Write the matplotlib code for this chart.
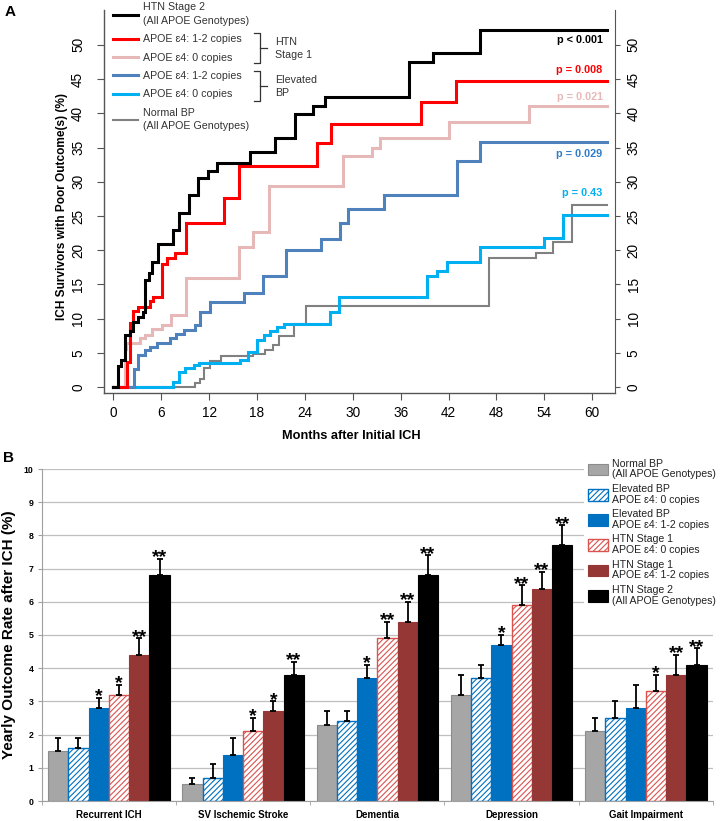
import matplotlib
matplotlib.use('Agg')
import matplotlib.pyplot as plt
from matplotlib.lines import Line2D
from matplotlib.patches import Patch
from matplotlib import font_manager as fm
import numpy as np

plt.rcParams['font.family'] = 'Liberation Sans'
plt.rcParams['hatch.linewidth'] = 0.8

_names = {f.name for f in fm.fontManager.ttflist}
HAS_NARROW = 'Liberation Sans Narrow' in _names
NARROW = 'Liberation Sans Narrow' if HAS_NARROW else 'Liberation Sans'

# ---- panel A: cumulative poor outcome (%) step curves ----
black_t = [0.6, 0.9, 1.4, 1.5, 2.1, 2.5, 3.1, 3.7, 4.0, 4.4, 4.8, 5.6, 7.5, 8.2,
           9.5, 10.6, 11.9, 13.0, 17.1, 20.3, 22.7, 25.0, 26.5, 37.1, 40.0, 46.0]
black_y = [3.0, 3.9, 5.2, 7.6, 8.2, 9.5, 10.3, 10.9, 15.6, 16.6, 18.3, 20.9, 23.0, 25.4,
           28.1, 30.5, 31.5, 32.7, 34.4, 36.4, 39.9, 41.1, 42.4, 47.5, 48.8, 52.2]

red_t = [1.7, 2.1, 2.5, 3.1, 4.6, 5.0, 6.05, 6.75, 7.7, 9.1, 13.9, 15.8, 25.5, 27.3, 38.5, 42.9]
red_y = [3.6, 9.3, 11.1, 11.7, 12.5, 13.2, 18.0, 18.8, 19.6, 23.9, 27.6, 32.3, 35.7, 38.5, 41.6, 44.7]

pink_t = [1.45, 1.6, 3.3, 4.0, 4.8, 6.05, 7.2, 9.1, 15.8, 17.5, 19.5, 28.8, 32.4, 33.4, 42.1, 52.1]
pink_y = [5.5, 6.4, 7.1, 7.6, 8.5, 9.1, 10.5, 16.0, 20.5, 22.7, 29.4, 33.8, 35.0, 36.4, 38.7, 41.1]

dblue_t = [2.6, 3.1, 3.95, 4.6, 5.4, 7.1, 7.9, 8.9, 10.2, 10.8, 12.1, 16.4, 18.8, 21.6,
           26.0, 28.4, 29.4, 33.9, 43.0, 46.0]
dblue_y = [2.6, 4.7, 5.4, 5.9, 6.5, 7.1, 7.7, 8.3, 9.1, 11.0, 12.4, 13.8, 16.2, 20.0,
           21.7, 23.9, 26.0, 28.1, 33.0, 35.8]

lblue_t = [7.5, 8.2, 9.0, 10.1, 10.7, 15.9, 16.9, 18.0, 18.9, 19.6, 20.5, 21.4, 27.2, 28.3,
           39.3, 40.6, 41.8, 46.0, 54.0, 56.3]
lblue_y = [0.8, 2.2, 2.8, 3.2, 3.5, 4.0, 5.1, 6.9, 7.6, 8.2, 8.8, 9.2, 11.0, 13.2,
           16.2, 16.9, 18.2, 20.4, 21.8, 25.2]

gray_t = [10.2, 10.9, 11.4, 12.1, 13.5, 17.5, 19.0, 20.0, 20.7, 22.6, 24.1, 47.1, 53.0, 55.1, 57.5]
gray_y = [0.6, 1.2, 2.8, 3.8, 4.5, 4.8, 5.4, 6.1, 7.5, 9.2, 11.8, 18.8, 19.6, 21.2, 26.6]

end_month = 61.8

curve_labels = ['HTN Stage 2\n(All APOE Genotypes)', 'APOE \u025b4: 1-2 copies', 'APOE \u025b4: 0 copies',
                'APOE \u025b4: 1-2 copies', 'APOE \u025b4: 0 copies', 'Normal BP\n(All APOE Genotypes)']
curve_colors = ['#000000', '#FF0000', '#E6B9B8', '#4F81BD', '#00B0F0', '#808080']

p_texts = ['p < 0.001', 'p = 0.008', 'p = 0.021', 'p = 0.029', 'p = 0.43']
p_colors = ['#000000', '#FF0000', '#E6B9B8', '#2F7CC8', '#00B0F0']
p_ypos = [50.7, 46.3, 42.4, 34.05, 28.3]

# ---- panel B: yearly outcome rates ----
categories = ['Recurrent ICH', 'SV Ischemic Stroke', 'Dementia', 'Depression', 'Gait Impairment']

normal_bp = [1.5, 0.5, 2.3, 3.2, 2.1]
normal_bp_err = [0.4, 0.2, 0.4, 0.6, 0.4]
normal_bp_sig = ['', '', '', '', '']

elev_0 = [1.6, 0.7, 2.4, 3.7, 2.5]
elev_0_err = [0.3, 0.4, 0.3, 0.4, 0.5]
elev_0_sig = ['', '', '', '', '']

elev_12 = [2.8, 1.4, 3.7, 4.7, 2.8]
elev_12_err = [0.3, 0.5, 0.4, 0.3, 0.7]
elev_12_sig = ['*', '', '*', '*', '']

htn1_0 = [3.2, 2.1, 4.9, 5.9, 3.3]
htn1_0_err = [0.3, 0.4, 0.5, 0.6, 0.5]
htn1_0_sig = ['*', '*', '**', '**', '*']

htn1_12 = [4.4, 2.7, 5.4, 6.4, 3.8]
htn1_12_err = [0.5, 0.3, 0.6, 0.5, 0.6]
htn1_12_sig = ['**', '*', '**', '**', '**']

htn2 = [6.8, 3.8, 6.8, 7.7, 4.1]
htn2_err = [0.5, 0.4, 0.6, 0.6, 0.5]
htn2_sig = ['**', '**', '**', '**', '**']

bar_labels = ['Normal BP\n(All APOE Genotypes)', 'Elevated BP\nAPOE \u025b4: 0 copies',
              'Elevated BP\nAPOE \u025b4: 1-2 copies', 'HTN Stage 1\nAPOE \u025b4: 0 copies',
              'HTN Stage 1\nAPOE \u025b4: 1-2 copies', 'HTN Stage 2\n(All APOE Genotypes)']

W, H = 724.0, 821.0


def fx(x):
    return x / W


def fy(y):
    return 1 - y / H


fig = plt.figure(figsize=(7.24, 8.21), dpi=100)

# ================= panel A =================
ax = fig.add_axes([fx(104), fy(392.7), fx(615) - fx(104), fy(10) - fy(392.7)])
curves = [(black_t, black_y), (red_t, red_y), (pink_t, pink_y),
          (dblue_t, dblue_y), (lblue_t, lblue_y), (gray_t, gray_y)]
lines = [None] * 6
for k in [5, 4, 3, 2, 1, 0]:
    t, y = curves[k]
    tt = [0] + t + [end_month]
    yy = [0] + y + [y[-1]]
    lw = 1.5 if k == 5 else 2.2
    lines[k], = ax.step(tt, yy, where='post', color=curve_colors[k], lw=lw,
                        solid_joinstyle='miter')

ax.set_xlim(-1.18, 62.86)
ax.set_ylim(-0.83, 55.1)
ax.set_xticks(range(0, 61, 6))
ax.set_yticks(range(0, 51, 5))
ax.spines['top'].set_visible(False)
ax.spines['right'].set_visible(False)
for s in ['left', 'bottom']:
    ax.spines[s].set_color('#555555')
    ax.spines[s].set_linewidth(1.0)
ax.tick_params(axis='x', length=4.8, pad=4.5, labelsize=9.8, color='#555555')
ax.tick_params(axis='y', length=5, pad=8.5, labelsize=9.8, color='#555555', labelrotation=90)
for lab in ax.get_yticklabels():
    lab.set_va('center')

ax2 = ax.twinx()
ax2.set_ylim(ax.get_ylim())
ax2.set_yticks(range(0, 51, 5))
for s in ['top', 'left', 'bottom']:
    ax2.spines[s].set_visible(False)
ax2.spines['right'].set_color('#555555')
ax2.tick_params(axis='y', length=3.8, pad=4.5, labelsize=9.8, color='#555555', labelrotation=90)
for lab in ax2.get_yticklabels():
    lab.set_va('center')

for txt, col, yp in zip(p_texts, p_colors, p_ypos):
    ax.text(61.3, yp, txt, color=col, ha='right', va='center', fontsize=7.8, fontweight='bold')

leg = ax.legend(lines, curve_labels, loc='upper left', bbox_to_anchor=(fx(113), fy(2.5)),
                bbox_transform=fig.transFigure, frameon=False, fontsize=7.7,
                handlelength=2.3, handletextpad=0.5, labelspacing=0.78,
                borderpad=0, borderaxespad=0)
for t in leg.get_texts():
    t.set_color('#333333')
    t.set_linespacing(1.45)
for h in leg.legend_handles:
    h.set_linewidth(2.2)
leg.legend_handles[5].set_linewidth(1.5)


def brace(y0, y1, x=260):
    ym = (y0 + y1) / 2
    fig.add_artist(Line2D([fx(x - 6), fx(x), fx(x), fx(x - 6)], [fy(y0), fy(y0), fy(y1), fy(y1)],
                          color='#333333', lw=0.9))
    fig.add_artist(Line2D([fx(x), fx(x + 7)], [fy(ym), fy(ym)], color='#333333', lw=0.9))


brace(33.5, 63.5)
brace(71.5, 101.5)
fig.text(fx(275), fy(48.5), 'HTN\nStage 1', ha='left', va='center', fontsize=7.7,
         color='#333333', linespacing=1.4)
fig.text(fx(275), fy(86.5), 'Elevated\nBP', ha='left', va='center', fontsize=7.7,
         color='#333333', linespacing=1.4)

lab_size = 11 if HAS_NARROW else 8.6
fig.text(fx(61.7), fy(206), 'ICH Survivors with Poor Outcome(s) (%)', rotation=90,
         ha='center', va='center', fontsize=lab_size, fontweight='bold', family=NARROW)
fig.text(fx(351.5), fy(435.7), 'Months after Initial ICH', ha='center', va='center',
         fontsize=(10.7 if HAS_NARROW else 9.2), fontweight='bold', family=NARROW)
fig.text(fx(10), fy(12.5), 'A', ha='center', va='center', fontsize=11, fontweight='bold')

# ================= panel B =================
bx = fig.add_axes([fx(41.7), fy(801), fx(713) - fx(41.7), fy(469) - fy(801)])
x = np.arange(len(categories))
w = 0.151
series = [
    (normal_bp, normal_bp_err, normal_bp_sig, dict(facecolor='#A6A6A6', edgecolor='#8C8C8C', lw=0.8)),
    (elev_0, elev_0_err, elev_0_sig, dict(facecolor='white', edgecolor='#0070C0', hatch='//////', lw=1.0)),
    (elev_12, elev_12_err, elev_12_sig, dict(facecolor='#0070C0', edgecolor='#0070C0', lw=0.8)),
    (htn1_0, htn1_0_err, htn1_0_sig, dict(facecolor='white', edgecolor='#D9534F', hatch='//////', lw=1.0)),
    (htn1_12, htn1_12_err, htn1_12_sig, dict(facecolor='#953735', edgecolor='#953735', lw=0.8)),
    (htn2, htn2_err, htn2_sig, dict(facecolor='#000000', edgecolor='#000000', lw=0.8)),
]
handles2 = []
for j, (vals, errs, sig, style) in enumerate(series):
    pos = x + (j - 2.5) * w
    bx.bar(pos, vals, w, zorder=2, **style)
    bx.errorbar(pos, vals, yerr=[np.zeros(len(vals)), errs], fmt='none', ecolor='black',
                elinewidth=1.3, capsize=2.3, capthick=1.3, zorder=3)
    for p, v, e, s in zip(pos, vals, errs, sig):
        if s:
            bx.annotate(s, (p, v + e), xytext=(0, -2.5), textcoords='offset points',
                        ha='center', va='baseline', fontsize=14, fontweight='bold')
    handles2.append(Patch(**style))

bx.set_xlim(-0.5, 4.5)
bx.set_ylim(0, 10)
bx.set_yticks(range(0, 11))
bx.set_xticks(x)
bx.set_xticklabels(categories, fontweight='bold', fontsize=7)
bx.set_xticks(np.arange(-0.5, 5, 1), minor=True)
bx.tick_params(axis='x', which='major', length=0, pad=6.5)
bx.tick_params(axis='x', which='minor', length=3, color='#A0A0A0')
bx.tick_params(axis='y', length=3, pad=3, labelsize=6.3, color='#A0A0A0')
for lab in bx.get_yticklabels():
    lab.set_fontweight('bold')
bx.grid(axis='y', color='#BFBFBF', lw=0.9, zorder=0)
bx.set_axisbelow(True)
bx.spines['top'].set_visible(False)
bx.spines['right'].set_visible(False)
bx.spines['left'].set_color('#A0A0A0')
bx.spines['bottom'].set_color('#A0A0A0')

leg2 = bx.legend(handles2, bar_labels, loc='upper left', bbox_to_anchor=(fx(584), fy(455)),
                 bbox_transform=fig.transFigure, fontsize=7.6, frameon=True, facecolor='white',
                 edgecolor='none', framealpha=1, handlelength=1.9, handleheight=1.35,
                 handletextpad=0.45, labelspacing=0.42, borderpad=0.35, borderaxespad=0)
for t in leg2.get_texts():
    t.set_color('#222222')
    t.set_linespacing(1.1)

fig.text(fx(9), fy(635), 'Yearly Outcome Rate after ICH (%)', rotation=90, ha='center',
         va='center', fontsize=11, fontweight='bold')
fig.text(fx(8), fy(458), 'B', ha='center', va='center', fontsize=11, fontweight='bold')

fig.savefig('out.png', dpi=100)
